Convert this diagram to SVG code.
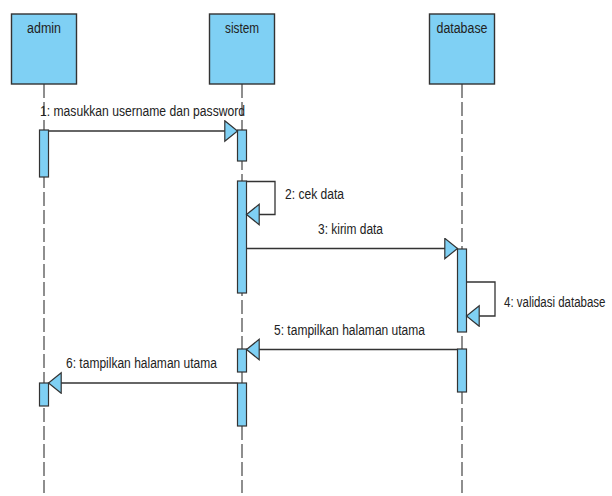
<svg xmlns="http://www.w3.org/2000/svg" width="612" height="496" viewBox="0 0 612 496">
<style>
  .box{fill:#7fd0f4;stroke:#333;stroke-width:1.4}
  .act{fill:#7fd0f4;stroke:#333;stroke-width:1.2}
  .life{stroke:#444;stroke-width:1.2;stroke-dasharray:14 4;fill:none}
  .msg{stroke:#333;stroke-width:1.3;fill:none;marker-end:url(#arr)}
  text{font-family:"Liberation Sans",Arial,sans-serif;font-size:14px;fill:#222}
  .hdr{text-anchor:middle}
</style>
<defs>
  <marker id="arr" markerUnits="userSpaceOnUse" markerWidth="16" markerHeight="24" refX="13.5" refY="11" orient="auto">
    <path d="M0.8,0.8 L13.5,11 L0.8,21.2 Z" fill="#7fd0f4" stroke="#333" stroke-width="1.2"/>
  </marker>
</defs>
<rect width="612" height="496" fill="#fff"/>
<g id="lifelines">
  <line class="life" x1="44" y1="84" x2="44" y2="493"/>
  <line class="life" x1="242" y1="84" x2="242" y2="493"/>
  <line class="life" x1="462" y1="84" x2="462" y2="493"/>
</g>
<g id="admin">
  <rect class="box" x="11.5" y="14" width="65" height="70"/>
  <text class="hdr" x="44" y="33" textLength="34" lengthAdjust="spacingAndGlyphs">admin</text>
  <rect class="act" x="39.5" y="130" width="9" height="47"/>
  <rect class="act" x="39.5" y="383" width="9" height="23"/>
</g>
<g id="sistem">
  <rect class="box" x="209.5" y="14" width="65" height="70"/>
  <text class="hdr" x="242" y="33" textLength="34" lengthAdjust="spacingAndGlyphs">sistem</text>
  <rect class="act" x="237.5" y="130" width="9" height="31"/>
  <rect class="act" x="237.5" y="181" width="9" height="112"/>
  <rect class="act" x="237.5" y="349" width="9" height="23"/>
  <rect class="act" x="237.5" y="383" width="9" height="43"/>
</g>
<g id="database">
  <rect class="box" x="429.5" y="14" width="65" height="70"/>
  <text class="hdr" x="462" y="33" textLength="51" lengthAdjust="spacingAndGlyphs">database</text>
  <rect class="act" x="457.5" y="249" width="9" height="83"/>
  <rect class="act" x="457.5" y="349" width="9" height="43"/>
</g>
<g id="connectors">
  <line class="msg" x1="48.5" y1="131" x2="237.5" y2="131"/>
  <path class="msg" d="M246.5,181.5 H275 V214.5 H246.5"/>
  <line class="msg" x1="246.5" y1="248.5" x2="457.5" y2="248.5"/>
  <path class="msg" d="M466.5,282 H495 V316 H466.5"/>
  <line class="msg" x1="457.5" y1="349.5" x2="246.5" y2="349.5"/>
  <line class="msg" x1="237.5" y1="383" x2="48.5" y2="383"/>
</g>
<g id="labels">
  <text x="40" y="116" textLength="205" lengthAdjust="spacingAndGlyphs">1: masukkan username dan password</text>
  <text x="285" y="199" textLength="59" lengthAdjust="spacingAndGlyphs">2: cek data</text>
  <text x="318" y="234" textLength="65" lengthAdjust="spacingAndGlyphs">3: kirim data</text>
  <text transform="translate(504,307) scale(0.82,1)" x="0" y="0">4: validasi database</text>
  <text x="274" y="335" textLength="151" lengthAdjust="spacingAndGlyphs">5: tampilkan halaman utama</text>
  <text x="66" y="368" textLength="151" lengthAdjust="spacingAndGlyphs">6: tampilkan halaman utama</text>
</g>
</svg>
